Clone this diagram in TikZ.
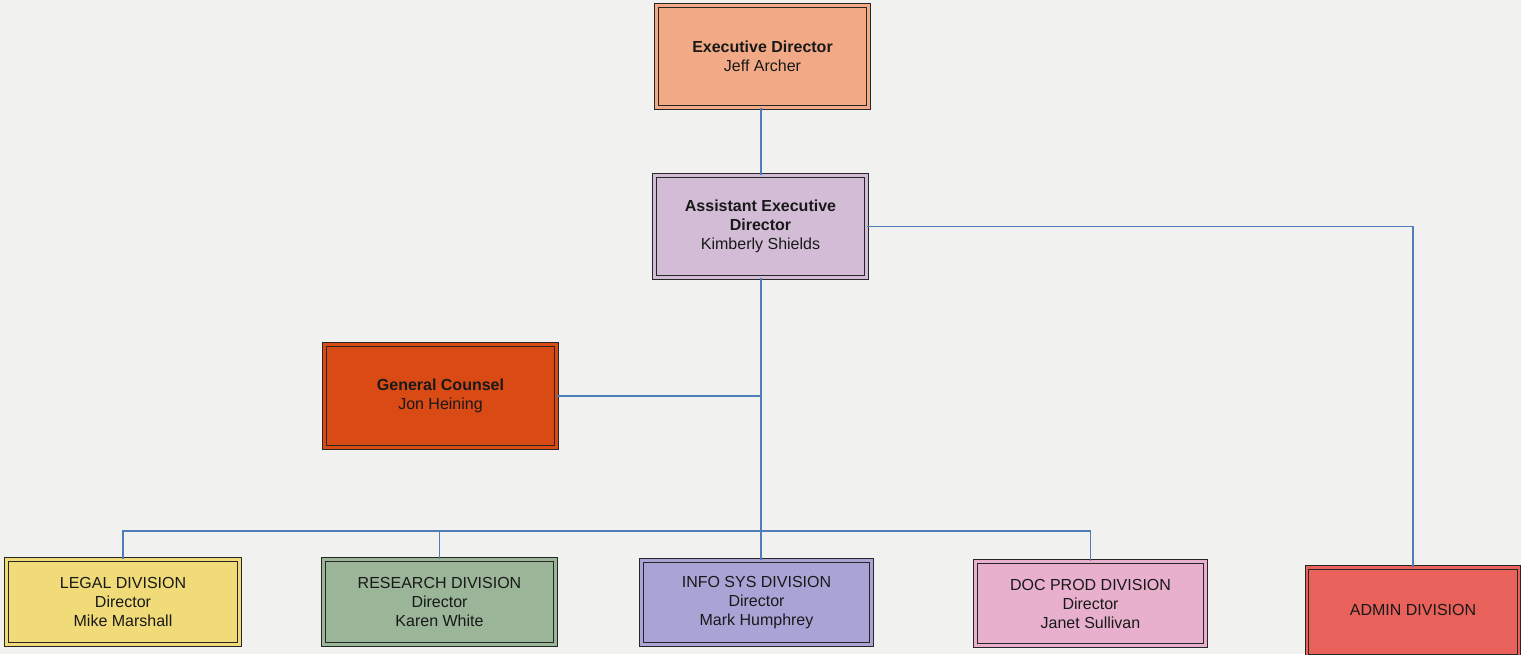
\documentclass[tikz,border=0pt]{standalone}
\usepackage{fontspec}
\setmainfont{Liberation Sans}
\definecolor{bgc}{HTML}{F1F1EF}
\definecolor{linec}{HTML}{4F7DB8}
\definecolor{cexec}{HTML}{F2A985}
\definecolor{cassist}{HTML}{D3BCD6}
\definecolor{cgc}{HTML}{D94A14}
\definecolor{clegal}{HTML}{F0DB78}
\definecolor{cresearch}{HTML}{9AB598}
\definecolor{cinfo}{HTML}{A9A3D6}
\definecolor{cdoc}{HTML}{E8B0CC}
\definecolor{cadmin}{HTML}{E8615B}
\tikzset{
  orgbox/.style={draw=black!85, line width=0.55pt, double=#1, double distance=1.3pt,
    fill=#1, align=center, inner sep=0pt, text=black!90,
    font=\fontsize{8}{9.5}\selectfont},
  conn/.style={draw=linec, line width=0.6pt}
}
\begin{document}
\begin{tikzpicture}[x=0.5pt,y=-0.5pt]
\fill[bgc] (0,0) rectangle (1521,654);
\useasboundingbox (0,0) rectangle (1521,654);
\node[orgbox=cexec, minimum width=106.1pt, minimum height=51.1pt] (exec) at (762.5,56.5)
  {\textbf{Executive Director}\\Jeff Archer};
\node[orgbox=cassist, minimum width=106.1pt, minimum height=51.1pt] (assist) at (760.5,226.5)
  {\textbf{Assistant Executive}\\\textbf{Director}\\Kimberly Shields};
\node[orgbox=cgc, minimum width=116.1pt, minimum height=51.6pt] (gc) at (440.5,396)
  {\textbf{General Counsel}\\Jon Heining};
\node[orgbox=clegal, minimum width=116.6pt, minimum height=42.6pt] (legal) at (123,602)
  {LEGAL DIVISION\\Director\\Mike Marshall};
\node[orgbox=cresearch, minimum width=116.1pt, minimum height=42.6pt] (research) at (439.5,602)
  {RESEARCH DIVISION\\Director\\Karen White};
\node[orgbox=cinfo, minimum width=115.1pt, minimum height=42.1pt] (info) at (756.5,602.5)
  {INFO SYS DIVISION\\Director\\Mark Humphrey};
\node[orgbox=cdoc, minimum width=115.1pt, minimum height=42.1pt] (doc) at (1090.5,603.5)
  {DOC PROD DIVISION\\Director\\Janet Sullivan};
\node[orgbox=cadmin, minimum width=106.1pt, minimum height=44.6pt, text depth=0pt] (admin) at (1413,612)
  {\raisebox{2pt}{ADMIN DIVISION}};
\coordinate (bus) at (0,531);
\coordinate (spine) at (761,0);
\draw[conn] (exec.south -| spine) -- (assist.north -| spine);
\draw[conn] (assist.south -| spine) -- (info.north -| spine);
\draw[conn] (gc.east) -- (gc.east -| spine);
\draw[conn] (assist.east) -- (admin.north |- assist.east) -- (admin.north);
\draw[conn] (legal.north) -- (legal.north |- bus) -- (doc.north |- bus) -- (doc.north);
\draw[conn] (research.north) -- (research.north |- bus);
\end{tikzpicture}
\end{document}
